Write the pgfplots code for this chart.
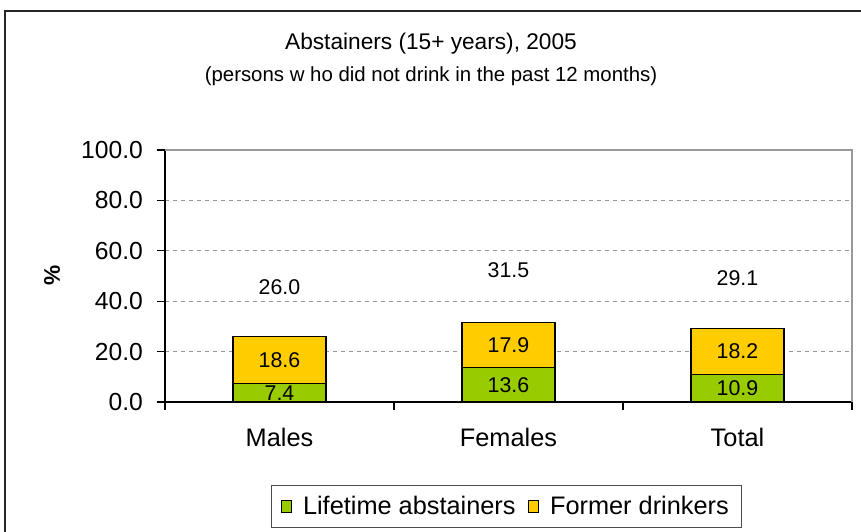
\documentclass[border=0pt]{standalone}
\usepackage{pgfplots}
\pgfplotsset{compat=1.18}
\usepackage{fontspec}
\setmainfont{Liberation Sans}
\definecolor{lgreen}{HTML}{99CC00}
\definecolor{lorange}{HTML}{FFCC00}
\begin{document}
\begin{tikzpicture}
\pgfplotsset{
  common/.style={
    scale only axis, width=515.25pt, height=189pt,
    at={(123.75pt,97.5pt)}, anchor=south west,
    xmin=-0.5, xmax=2.5, ymin=0, ymax=100,
  }
}
\begin{axis}[common,
  ybar stacked, bar width=69.75pt, clip=false,
  axis x line*=bottom, axis y line*=left,
  axis line style={black, line width=0.8pt},
  xtick={0,1,2}, xticklabels={Males,Females,Total},
  major x tick style={draw=none},
  minor xtick={-0.5,0.5,1.5,2.5},
  minor x tick style={black, line width=0.8pt},
  tick align=outside, major tick length=6pt, minor tick length=6pt,
  ytick={0,20,...,100},
  major y tick style={black, line width=0.8pt},
  ymajorgrids, major grid style={dashed, gray!80, line width=0.6pt},
  y tick label style={/pgf/number format/fixed, /pgf/number format/fixed zerofill,
    /pgf/number format/precision=1, /pgf/number format/assume math mode=true,
    font=\fontsize{18.5}{20}\selectfont, xshift=-7pt},
  x tick label style={font=\fontsize{19}{22}\selectfont, yshift=-10pt},
  every axis y label/.style={at={(axis description cs:-0.1645,0.504)}, rotate=90, anchor=center, font=\fontsize{17}{20}\selectfont\bfseries},
  ylabel={\%},
  legend style={at={(axis description cs:0.1543,-0.3294)}, anchor=north west,
    legend columns=2, draw=black!70, font=\fontsize{19}{22}\selectfont,
    inner xsep=7pt, inner ysep=6pt,
    /tikz/every odd column/.append style={column sep=6pt},
    /tikz/every even column/.append style={column sep=7pt}},
]
\addplot[fill=lgreen, draw=black, line width=0.8pt,
  legend image code/.code={\draw[fill=lgreen, draw=black, line width=0.8pt] (0pt,-4.5pt) rectangle (8pt,4pt);}]
  coordinates {(0,7.4) (1,13.6) (2,10.9)};
\addlegendentry{Lifetime abstainers}
\addplot[fill=lorange, draw=black, line width=0.8pt,
  legend image code/.code={\draw[fill=lorange, draw=black, line width=0.8pt] (0pt,-4.5pt) rectangle (8pt,4pt);}]
  coordinates {(0,18.6) (1,17.9) (2,18.2)};
\addlegendentry{Former drinkers}
\draw[gray!80, line width=0.8pt] (rel axis cs:0,1) -- (rel axis cs:1,1) -- (rel axis cs:1,0);
\end{axis}
\begin{axis}[common, hide axis, clip=false]
\addplot[draw=none, mark=none, nodes near coords, point meta=explicit symbolic,
  nodes near coords style={anchor=center, font=\fontsize{16}{18}\selectfont, inner sep=0pt}]
  coordinates {(0,3.7)[7.4] (1,6.8)[13.6] (2,5.45)[10.9]
               (0,16.7)[18.6] (1,22.55)[17.9] (2,20.0)[18.2]
               (0,45.6)[26.0] (1,52.4)[31.5] (2,49.2)[29.1]};
\end{axis}
\node[font=\fontsize{17}{20}\selectfont] at (323.25pt,366pt) {Abstainers (15+ years), 2005};
\node[font=\fontsize{15.3}{18}\selectfont] at (323.25pt,341.5pt) {(persons w ho did not drink in the past 12 months)};
\draw[black!85, line width=0.8pt] (3.75pt,-30pt) rectangle (700pt,390.75pt);
\pgfresetboundingbox
\useasboundingbox (0,0) rectangle (645.75pt,399pt);
\end{tikzpicture}
\end{document}
